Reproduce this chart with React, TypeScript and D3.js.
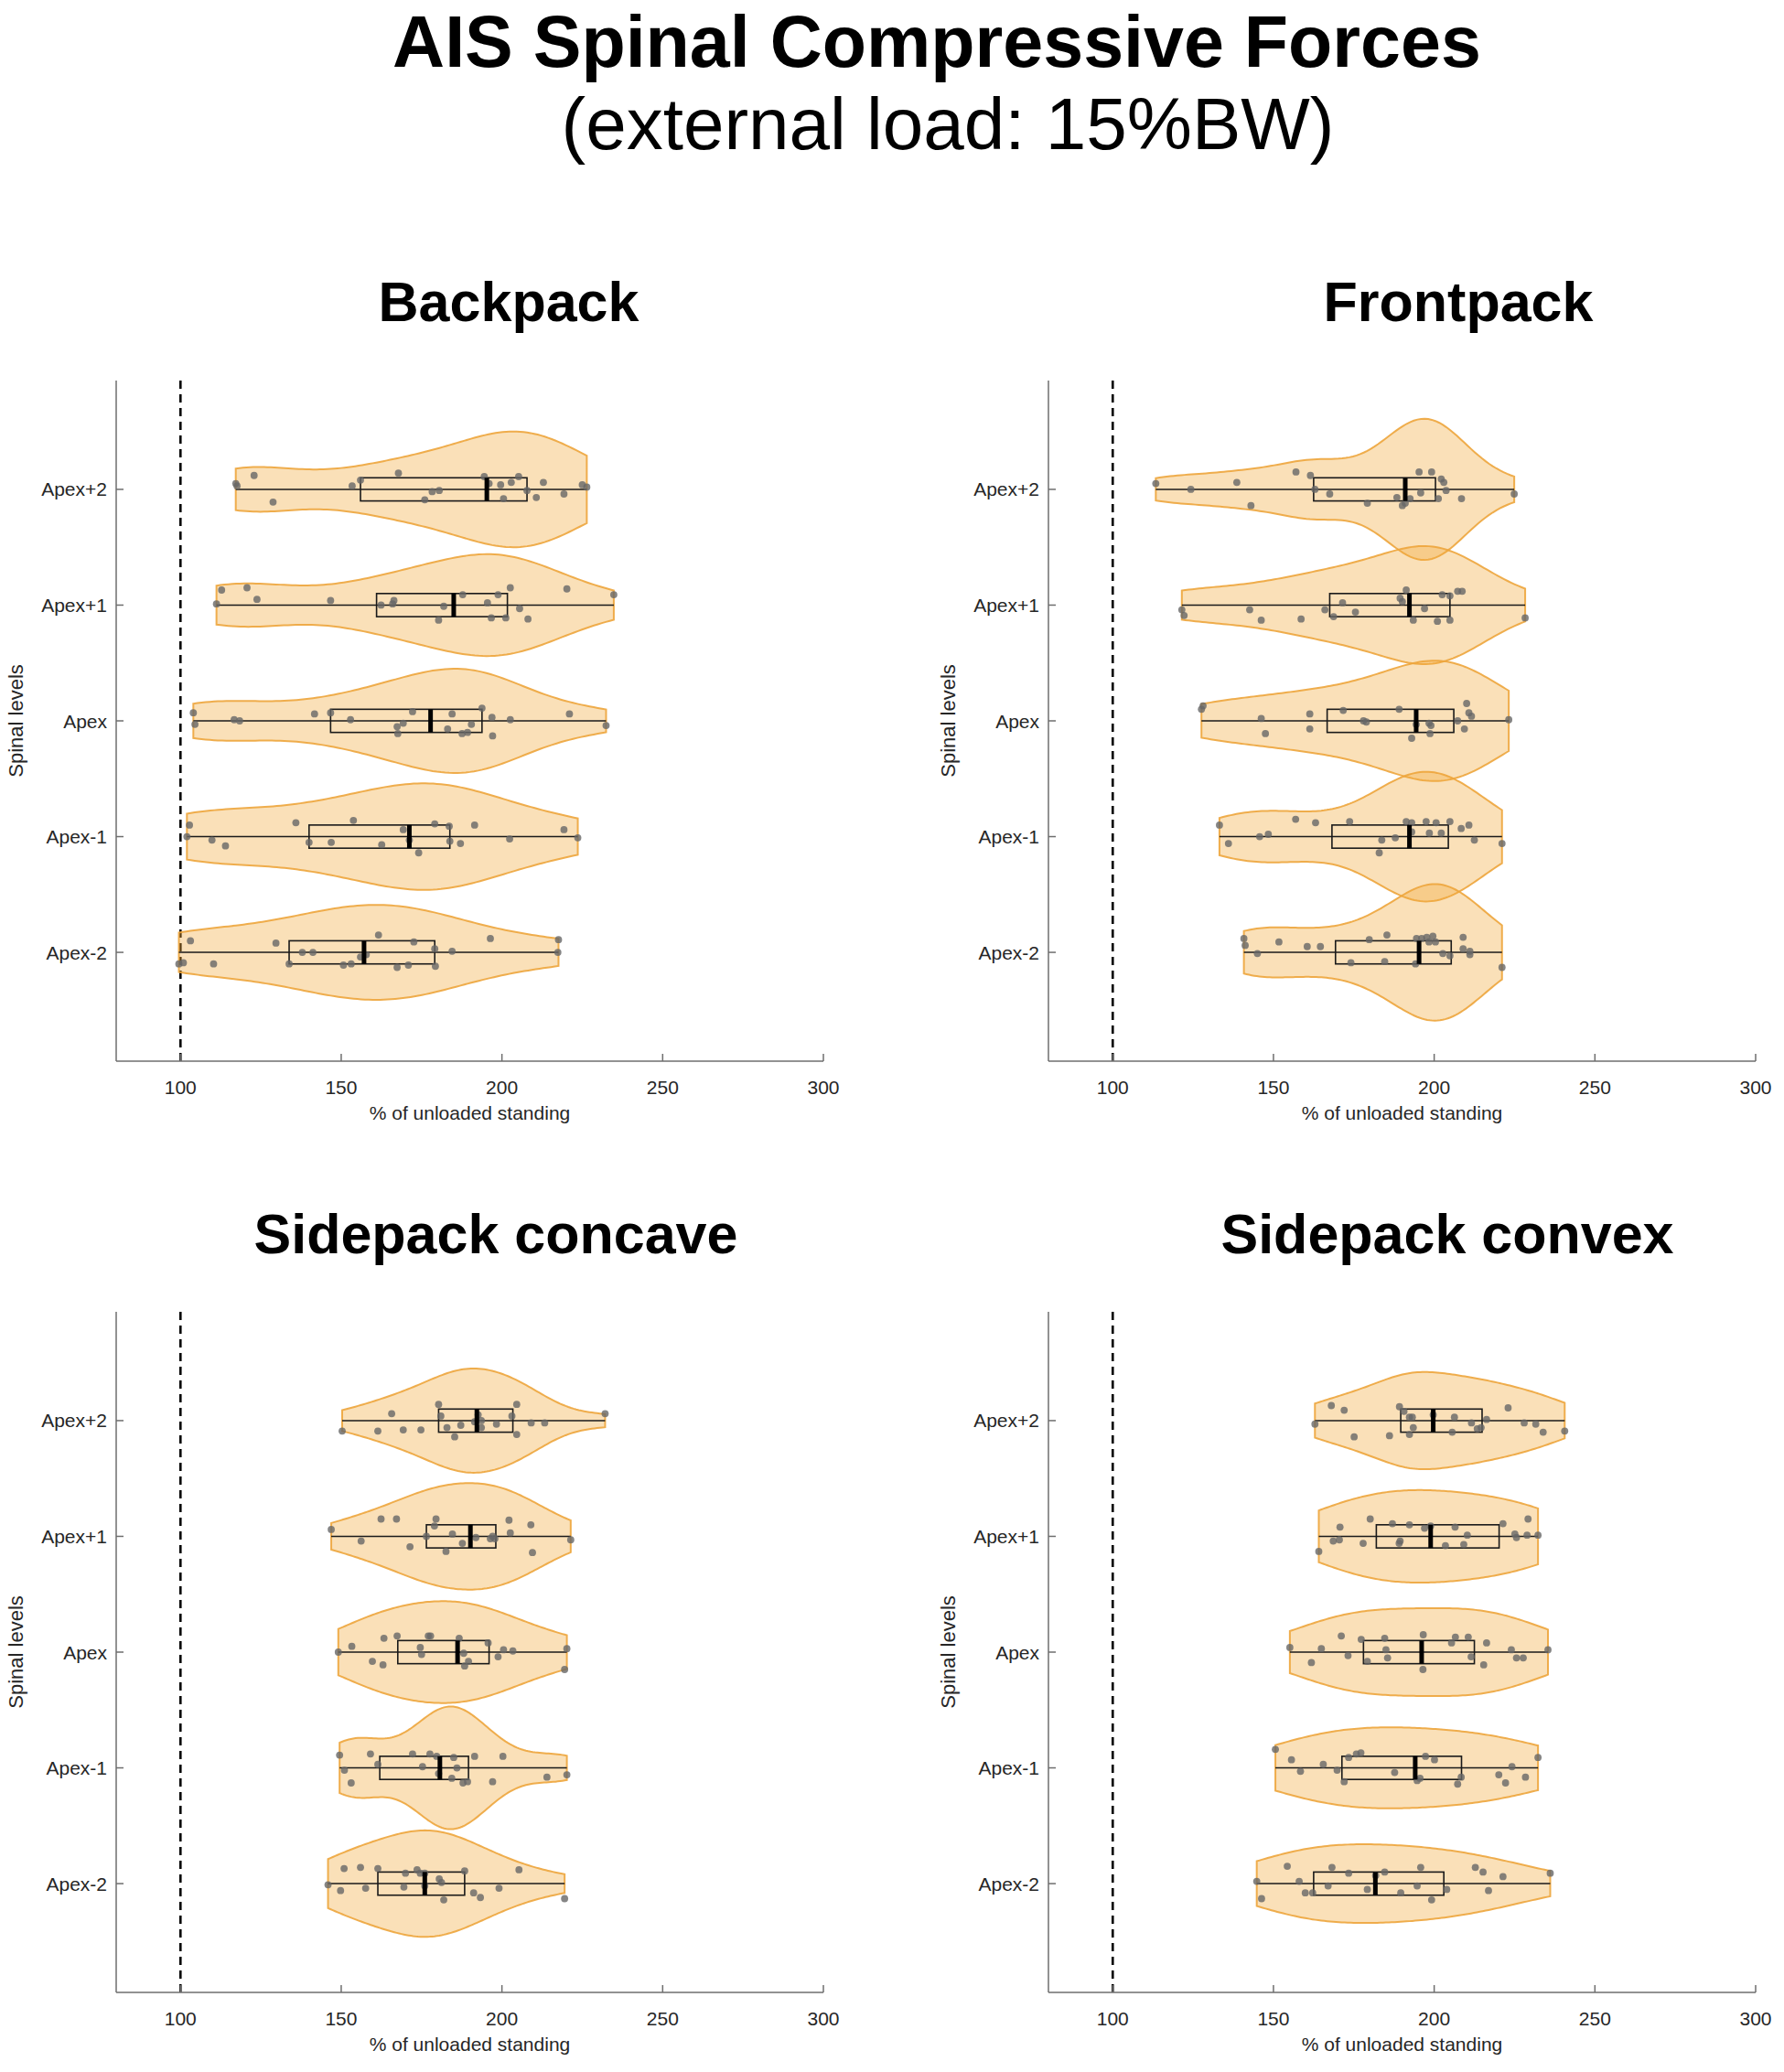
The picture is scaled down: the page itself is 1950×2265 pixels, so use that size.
import * as d3 from 'd3';

// levels, top to bottom as drawn
const levels = ['Apex+2', 'Apex+1', 'Apex', 'Apex-1', 'Apex-2'];
const levelPos = [5, 4, 3, 2, 1];
const xTicks = [100, 150, 200, 250, 300];

// each point: [value (% of unloaded standing), vertical jitter in level units, + = down]
type Pt = [number, number];

const backpackPoints: Pt[][] = [
  [[117.2,-0.05],[117.6,-0.03],[122.9,-0.12],[128.8,0.11],[153.4,-0.03],[156.0,-0.08],[167.8,-0.14],[176.0,0.09],[178.3,0.02],[180.5,0.01],[194.5,-0.11],[196.0,-0.05],[199.6,-0.04],[200.5,0.08],[202.9,-0.06],[205.2,-0.11],[207.8,0.01],[210.7,0.07],[212.9,-0.06],[219.3,0.04],[225.0,-0.04],[226.4,-0.02]],
  [[111.2,-0.01],[112.8,-0.13],[120.7,-0.15],[123.8,-0.05],[146.7,-0.04],[162.4,0.0],[166.0,-0.01],[166.4,-0.04],[180.3,0.13],[181.9,0.01],[187.8,-0.09],[195.5,-0.02],[196.7,0.11],[198.8,-0.09],[201.2,0.11],[202.6,-0.15],[205.5,0.03],[208.1,0.12],[220.2,-0.14],[234.8,-0.09]],
  [[104.0,-0.07],[104.5,0.03],[116.7,-0.01],[118.4,0.0],[141.7,-0.06],[146.7,-0.07],[152.9,-0.01],[167.4,0.05],[167.6,0.11],[169.3,0.02],[172.2,-0.08],[183.1,0.07],[184.5,-0.06],[187.6,0.11],[189.3,0.10],[190.5,0.03],[193.8,-0.11],[196.9,-0.03],[197.1,0.13],[202.6,-0.01],[221.0,-0.06],[232.4,0.04]],
  [[102.0,0.0],[102.8,-0.10],[109.8,0.03],[114.0,0.08],[135.9,-0.12],[140.0,0.05],[146.9,0.05],[153.8,-0.14],[162.6,0.07],[169.3,-0.06],[171.2,0.03],[174.1,0.14],[179.1,-0.11],[183.6,-0.09],[183.8,0.04],[187.1,0.06],[191.5,-0.10],[202.4,0.02],[219.3,-0.06],[223.6,0.01]],
  [[99.5,0.10],[100.9,0.09],[103.1,-0.10],[110.3,0.10],[129.7,-0.08],[133.8,0.10],[137.9,0.0],[141.2,0.0],[150.7,0.11],[153.1,0.10],[156.0,0.04],[157.8,0.02],[161.6,-0.15],[167.4,0.13],[170.9,0.11],[172.6,-0.09],[179.1,-0.03],[179.3,0.12],[184.5,-0.01],[196.4,-0.12],[217.6,-0.11],[217.4,0.0]],
];
// [q1, median, q3]
const backpackBoxes = [[156.0,195.3,207.8],[161.0,185.0,201.7],[146.7,177.8,193.8],[140.0,171.2,183.8],[133.8,157.1,179.1]];
// max half-width of each violin, level units
const backpackPeaks = [0.50, 0.44, 0.45, 0.46, 0.41];

const frontpackPoints: Pt[][] = [
  [[113.4,-0.05],[124.3,0.0],[138.6,-0.06],[143.0,0.14],[157.0,-0.15],[161.5,-0.12],[162.9,0.0],[167.5,0.04],[179.2,0.12],[188.4,0.07],[190.1,0.14],[191.0,0.12],[192.5,0.08],[195.3,-0.15],[195.8,0.03],[199.2,-0.15],[201.3,0.08],[202.2,-0.09],[203.0,-0.06],[203.7,0.01],[208.5,0.08],[224.9,0.04]],
  [[121.5,0.04],[122.2,0.09],[142.6,0.04],[146.2,0.13],[158.6,0.12],[166.0,0.04],[168.7,0.10],[171.5,-0.02],[175.5,0.06],[189.4,-0.06],[190.1,-0.03],[191.3,-0.13],[193.5,0.13],[197.0,0.03],[201.0,0.14],[202.5,-0.09],[204.9,-0.08],[204.9,0.13],[207.3,-0.12],[208.7,-0.12],[228.3,0.11]],
  [[127.6,-0.10],[128.1,-0.13],[146.2,-0.02],[147.5,0.11],[161.3,-0.06],[161.3,0.07],[171.7,-0.09],[178.0,0.0],[178.9,0.01],[189.1,-0.10],[193.0,0.15],[194.4,0.03],[198.4,0.02],[199.0,0.04],[198.7,0.11],[207.3,0.0],[209.4,0.07],[210.1,-0.15],[210.8,-0.07],[211.6,-0.04],[223.2,-0.01]],
  [[133.2,-0.10],[136.0,0.06],[145.7,0.0],[148.4,-0.02],[156.9,-0.15],[163.1,-0.12],[173.7,-0.13],[183.7,0.03],[182.9,0.14],[187.9,0.01],[191.3,-0.13],[193.0,-0.12],[193.0,-0.04],[197.5,-0.13],[198.5,-0.03],[200.6,-0.12],[202.2,-0.03],[204.9,-0.13],[208.4,-0.07],[210.8,-0.10],[212.5,0.03],[221.1,0.06]],
  [[140.8,-0.12],[141.2,-0.06],[145.0,0.01],[151.7,-0.09],[160.5,-0.05],[164.6,-0.05],[174.1,0.09],[179.8,-0.11],[184.6,0.08],[185.3,-0.15],[194.5,-0.12],[194.2,0.10],[196.1,-0.12],[197.7,-0.13],[198.4,-0.09],[199.6,-0.14],[200.4,-0.09],[202.7,0.01],[204.9,0.03],[209.0,-0.13],[209.0,-0.03],[211.1,0.02],[211.1,-0.01],[221.1,0.13]],
];
const frontpackBoxes = [[162.5,191.0,200.4],[167.5,192.3,204.9],[166.7,194.4,206.1],[168.2,192.3,204.4],[169.3,195.3,205.3]];
const frontpackPeaks = [0.61, 0.51, 0.52, 0.56, 0.59];

const concavePoints: Pt[][] = [
  [[150.3,0.09],[161.4,0.09],[165.7,-0.06],[169.3,0.08],[174.8,0.08],[180.3,-0.14],[181.0,-0.04],[182.9,0.06],[185.3,0.14],[187.2,0.04],[191.5,0.01],[192.6,-0.05],[193.6,0.06],[193.6,0.0],[198.3,0.03],[203.1,-0.04],[204.6,-0.14],[204.6,0.12],[209.1,0.02],[213.3,0.02],[232.1,-0.06]],
  [[146.9,-0.06],[156.2,0.04],[162.4,-0.15],[167.2,-0.15],[171.4,0.09],[176.5,0.0],[179.0,-0.09],[179.5,-0.15],[184.6,-0.02],[182.6,0.13],[187.7,0.06],[191.9,0.01],[196.4,0.02],[197.1,0.0],[197.8,0.02],[202.2,-0.14],[202.6,-0.03],[209.0,-0.10],[209.5,0.14],[221.4,0.03]],
  [[149.1,0.0],[153.3,-0.05],[159.7,0.08],[163.0,0.11],[163.3,-0.12],[167.4,-0.14],[174.6,-0.04],[175.0,0.02],[177.1,-0.14],[177.8,-0.14],[186.7,-0.12],[188.1,0.01],[188.4,0.12],[189.6,0.08],[195.7,-0.08],[198.8,0.04],[200.5,-0.02],[203.4,-0.01],[220.2,-0.03],[219.5,0.15]],
  [[149.5,-0.11],[151.0,0.02],[153.1,0.13],[159.1,-0.12],[161.4,-0.03],[172.2,-0.12],[175.3,-0.01],[177.6,-0.12],[179.7,-0.10],[180.3,0.05],[185.0,-0.09],[186.0,0.0],[184.4,0.09],[187.9,0.13],[189.3,0.12],[191.5,-0.10],[197.1,0.12],[200.3,-0.10],[214.0,0.08],[220.2,0.06]],
  [[145.9,0.01],[149.8,0.06],[150.9,-0.13],[156.0,-0.14],[157.6,0.04],[161.4,-0.13],[169.5,0.03],[170.0,-0.09],[173.6,-0.12],[174.6,-0.09],[176.0,-0.09],[176.0,0.02],[180.5,-0.04],[181.2,-0.01],[181.9,0.14],[188.4,-0.11],[191.2,0.08],[193.3,0.12],[199.1,0.04],[205.3,-0.12],[219.5,0.13]],
];
const concaveBoxes = [[180.3,192.2,203.4],[176.5,190.2,198.1],[167.6,186.2,196.0],[162.0,180.7,189.6],[161.4,176.0,188.4]];
const concavePeaks = [0.45, 0.46, 0.44, 0.53, 0.46];

const convexPoints: Pt[][] = [
  [[162.9,0.03],[168.0,-0.13],[172.0,-0.09],[175.1,0.14],[186.1,0.13],[189.2,-0.12],[190.6,-0.08],[192.3,-0.03],[193.2,-0.03],[192.3,0.12],[193.5,0.06],[199.7,-0.05],[205.6,0.10],[206.3,-0.03],[211.6,0.02],[213.4,0.07],[214.6,0.06],[216.3,-0.01],[223.0,-0.11],[228.0,0.02],[231.6,0.03],[233.9,0.10],[240.6,0.09]],
  [[164.1,0.13],[168.6,0.04],[170.5,0.03],[170.7,-0.08],[177.9,0.06],[180.1,-0.15],[187.0,-0.11],[189.1,0.06],[189.4,0.04],[192.3,-0.10],[197.0,-0.07],[198.9,-0.09],[203.5,0.08],[206.5,-0.08],[209.2,0.07],[210.3,-0.01],[221.4,-0.11],[225.1,-0.02],[225.6,0.01],[228.9,-0.01],[229.2,-0.15],[232.3,-0.01]],
  [[155.1,-0.04],[161.8,0.09],[164.9,-0.03],[171.1,-0.14],[173.2,0.03],[177.3,-0.11],[179.2,0.08],[184.6,-0.12],[185.0,-0.02],[185.5,0.05],[196.6,-0.15],[196.5,0.15],[205.4,-0.08],[206.6,-0.13],[210.6,-0.13],[211.5,0.04],[215.4,0.11],[216.3,-0.08],[224.0,-0.02],[225.6,0.05],[227.7,0.05],[235.4,-0.02]],
  [[150.6,-0.16],[155.6,-0.07],[158.4,0.03],[165.5,-0.03],[169.8,0.02],[172.0,0.12],[173.4,-0.09],[175.8,-0.12],[177.2,-0.13],[187.7,0.04],[194.7,0.11],[195.6,0.09],[197.3,-0.10],[200.1,-0.07],[207.3,0.14],[208.4,0.08],[220.1,0.06],[222.2,0.13],[224.2,-0.01],[228.4,0.08],[232.3,-0.09]],
  [[144.8,-0.02],[146.3,0.13],[154.3,-0.15],[158.0,-0.02],[159.9,0.08],[162.2,0.08],[167.0,0.02],[168.2,-0.14],[173.4,-0.09],[179.2,0.05],[181.8,-0.07],[184.6,-0.10],[189.6,0.08],[194.7,0.02],[195.8,-0.14],[199.2,0.14],[203.9,0.05],[212.8,-0.14],[215.2,-0.10],[216.9,0.06],[221.4,-0.06],[236.1,-0.09]],
];
const convexBoxes = [[189.6,199.7,214.9],[182.0,198.9,220.2],[178.0,196.1,212.5],[171.3,194.1,208.5],[162.5,181.7,203.0]];
const convexPeaks = [0.42, 0.40, 0.38, 0.35, 0.34];

const W = 1950;
const H = 2265;
const AX_W = 773;
const font = '"Liberation Sans", Arial, Helvetica, sans-serif';
const textColor = '#262626';

const panels = [
  { title: 'Backpack', points: backpackPoints, boxes: backpackBoxes, peaks: backpackPeaks, left: 127, top: 416, bottom: 1160, titleX: 556, titleY: 351 },
  { title: 'Frontpack', points: frontpackPoints, boxes: frontpackBoxes, peaks: frontpackPeaks, left: 1146, top: 416, bottom: 1160, titleX: 1594, titleY: 351 },
  { title: 'Sidepack concave', points: concavePoints, boxes: concaveBoxes, peaks: concavePeaks, left: 127, top: 1434, bottom: 2178, titleX: 542, titleY: 1370 },
  { title: 'Sidepack convex', points: convexPoints, boxes: convexBoxes, peaks: convexPeaks, left: 1146, top: 1434, bottom: 2178, titleX: 1582, titleY: 1370 },
];

// ksdensity-style normal bandwidth
function bandwidth(v: number[]) {
  const med = d3.median(v) ?? 0;
  const mad = d3.median(v, (d) => Math.abs(d - med)) ?? 1;
  return (mad / 0.6745) * Math.pow(4 / (3 * v.length), 0.2);
}

function Panel({ p }: { p: (typeof panels)[number] }) {
  const x = d3.scaleLinear().domain([80, 300]).range([p.left, p.left + AX_W]);
  const y = d3.scaleLinear().domain([0.06, 5.94]).range([p.bottom, p.top]);
  const unit = y(0) - y(1);
  const boxHalf = 0.1 * unit;

  const violins = p.points.map((pts, i) => {
    const vals = pts.map((d) => d[0]);
    const h = bandwidth(vals);
    const [lo, hi] = d3.extent(vals) as [number, number];
    const xs = d3.range(0, 101).map((k) => lo + ((hi - lo) * k) / 100);
    const dens = xs.map((t) => d3.mean(vals, (v) => Math.exp(-0.5 * ((t - v) / h) ** 2)) ?? 0);
    const maxD = d3.max(dens) ?? 1;
    const cy = y(levelPos[i]);
    const prof = xs.map((t, k) => ({ t, w: (dens[k] / maxD) * p.peaks[i] * unit }));
    const path = d3
      .area<{ t: number; w: number }>()
      .x((d) => x(d.t))
      .y0((d) => cy + d.w)
      .y1((d) => cy - d.w)(prof);
    return { path: path ?? '', cy, lo, hi };
  });

  const midX = (p.left + p.left + AX_W) / 2;

  return (
    <g>
      <text x={p.titleX} y={p.titleY} textAnchor="middle" fontSize={61} fontWeight="bold" fill="#000">
        {p.title}
      </text>

      {/* reference line at 100% */}
      <line x1={x(100)} x2={x(100)} y1={p.top} y2={p.bottom} stroke="#000" strokeWidth={2.6} strokeDasharray="9,6" />

      {violins.map((v, i) => (
        <path key={'v' + i} d={v.path} fill="#F2A93B" fillOpacity={0.36} stroke="#EDA53C" strokeOpacity={0.9} strokeWidth={2} />
      ))}

      {violins.map((v, i) => {
        const [q1, med, q3] = p.boxes[i];
        return (
          <g key={'b' + i}>
            <line x1={x(v.lo)} x2={x(v.hi)} y1={v.cy} y2={v.cy} stroke="#1a1a1a" strokeWidth={1.5} />
            <rect x={x(q1)} y={v.cy - boxHalf} width={x(q3) - x(q1)} height={2 * boxHalf} fill="none" stroke="#1a1a1a" strokeWidth={1.6} />
            {p.points[i].map((d, k) => (
              <circle key={k} cx={x(d[0])} cy={v.cy + d[1] * unit} r={3.9} fill="#666" fillOpacity={0.8} />
            ))}
            <line x1={x(med)} x2={x(med)} y1={v.cy - boxHalf} y2={v.cy + boxHalf} stroke="#000" strokeWidth={5} />
          </g>
        );
      })}

      {/* axes */}
      <line x1={p.left} x2={p.left} y1={p.top} y2={p.bottom} stroke="#6e6e6e" strokeWidth={1.5} />
      <line x1={p.left} x2={p.left + AX_W} y1={p.bottom} y2={p.bottom} stroke="#6e6e6e" strokeWidth={1.5} />
      {xTicks.map((t) => (
        <g key={'xt' + t}>
          <line x1={x(t)} x2={x(t)} y1={p.bottom} y2={p.bottom - 8} stroke="#6e6e6e" strokeWidth={1.5} />
          <text x={x(t)} y={p.bottom + 36} textAnchor="middle" fontSize={21} fill={textColor}>
            {t}
          </text>
        </g>
      ))}
      {levels.map((l, i) => (
        <g key={'yt' + l}>
          <line x1={p.left} x2={p.left + 8} y1={y(levelPos[i])} y2={y(levelPos[i])} stroke="#6e6e6e" strokeWidth={1.5} />
          <text x={p.left - 10} y={y(levelPos[i])} dy="0.36em" textAnchor="end" fontSize={21} fill={textColor}>
            {l}
          </text>
        </g>
      ))}
      <text x={midX} y={p.bottom + 64} textAnchor="middle" fontSize={21} fill={textColor}>
        % of unloaded standing
      </text>
      <text
        transform={`translate(${p.left - 102},${(p.top + p.bottom) / 2}) rotate(-90)`}
        textAnchor="middle"
        fontSize={22}
        fill={textColor}
      >
        Spinal levels
      </text>
    </g>
  );
}

export default function App() {
  return (
    <svg
      width={W}
      height={H}
      viewBox={`0 0 ${W} ${H}`}
      style={{ position: 'absolute', left: 0, top: 0, background: '#fff', fontFamily: font }}
    >
      <rect width={W} height={H} fill="#fff" />
      <text x={1024} y={73} textAnchor="middle" fontSize={79} fontWeight="bold" fill="#000">
        AIS Spinal Compressive Forces
      </text>
      <text x={1036} y={163} textAnchor="middle" fontSize={80} fill="#000">
        (external load: 15%BW)
      </text>
      {panels.map((p) => (
        <Panel key={p.title} p={p} />
      ))}
    </svg>
  );
}
